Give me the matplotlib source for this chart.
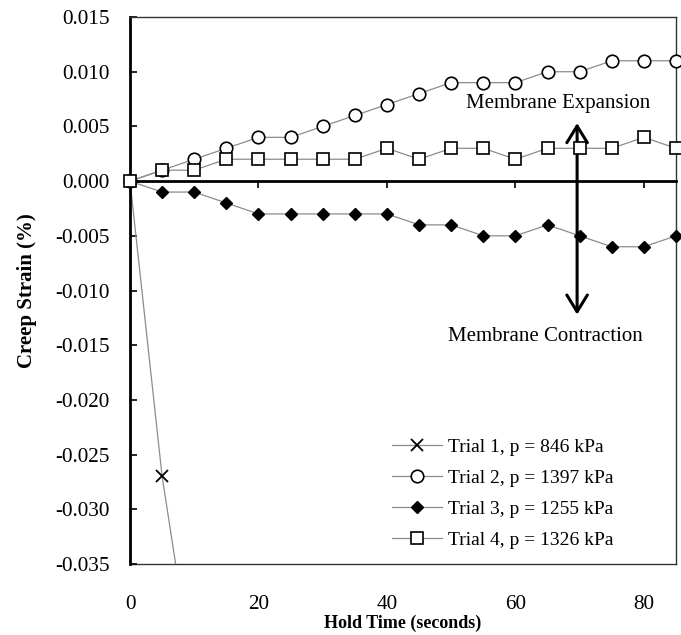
import matplotlib
matplotlib.use("Agg")
import matplotlib.pyplot as plt
from matplotlib.ticker import FormatStrFormatter

plt.rcParams['font.family'] = ['Liberation Serif', 'DejaVu Serif']
plt.rcParams['axes.unicode_minus'] = False

# ---- data ----
time_t1 = [0, 5, 10]
trial1 = [0.0, -0.027, -0.046]

time = [0, 5, 10, 15, 20, 25, 30, 35, 40, 45, 50, 55, 60, 65, 70, 75, 80, 85]
trial2 = [0.0, 0.001, 0.002, 0.003, 0.004, 0.004, 0.005, 0.006, 0.007, 0.008,
          0.009, 0.009, 0.009, 0.010, 0.010, 0.011, 0.011, 0.011]
trial3 = [0.0, -0.001, -0.001, -0.002, -0.003, -0.003, -0.003, -0.003, -0.003, -0.004,
          -0.004, -0.005, -0.005, -0.004, -0.005, -0.006, -0.006, -0.005]
trial4 = [0.0, 0.001, 0.001, 0.002, 0.002, 0.002, 0.002, 0.002, 0.003, 0.002,
          0.003, 0.003, 0.002, 0.003, 0.003, 0.003, 0.004, 0.003]

labels = ["Trial 1, p = 846 kPa", "Trial 2, p = 1397 kPa",
          "Trial 3, p = 1255 kPa", "Trial 4, p = 1326 kPa"]

xticks = [0, 20, 40, 60, 80]
yticks = [-0.035, -0.030, -0.025, -0.020, -0.015, -0.010, -0.005, 0.0, 0.005, 0.010, 0.015]

arrow_x = 69.6
arrow_top = 0.0053
arrow_bottom = -0.0122
text_expansion = (66.6, 0.0071)
text_contraction = (64.6, -0.0142)

# ---- figure ----
fig = plt.figure(figsize=(6.81, 6.35), dpi=100)
ax = fig.add_axes([0.1909, 0.1118, 0.9927 - 0.1909, 0.9732 - 0.1118])

line_color = '#8c8c8c'
ax.plot(time_t1, trial1, color=line_color, lw=0.9, marker='x', ms=8, mec='black',
        mew=1.3, label=labels[0])
ax.plot(time, trial2, color=line_color, lw=0.9, marker='o', ms=9, mfc='white',
        mec='black', mew=1.2, label=labels[1], clip_on=False, zorder=3)
ax.plot(time, trial3, color=line_color, lw=0.9, marker='D', ms=6.5, mfc='black',
        mec='black', mew=1.0, label=labels[2], clip_on=False, zorder=3)
ax.plot(time, trial4, color=line_color, lw=0.9, marker='s', ms=9, mfc='white',
        mec='black', mew=1.2, label=labels[3], clip_on=False, zorder=4)

ax.set_xlim(0, 85)
ax.set_ylim(-0.035, 0.015)

# bottom spine moved to zero line
ax.spines['bottom'].set_position(('data', 0))
ax.spines['bottom'].set_linewidth(2)
ax.spines['bottom'].set_color('black')
ax.spines['left'].set_linewidth(2)
ax.spines['left'].set_color('black')
for s in ['top', 'right']:
    ax.spines[s].set_linewidth(1)
    ax.spines[s].set_color('#333333')

ax.set_xticks(xticks)
ax.tick_params(axis='x', direction='out', length=5, width=1.2, labelbottom=False)
ax.set_yticks(yticks)
ax.yaxis.set_major_formatter(FormatStrFormatter('%.3f'))
ax.tick_params(axis='y', direction='in', length=5, width=1.2, labelsize=15.3, pad=14.5)

# secondary bottom axis for frame and labels
sec = ax.secondary_xaxis('bottom')
sec.set_xticks(xticks)
sec.tick_params(length=0, labelsize=15.3, pad=22)
sec.spines['bottom'].set_linewidth(1)
sec.spines['bottom'].set_color('#333333')
sec.set_xlabel('Hold Time (seconds)', fontsize=13, fontweight='bold', labelpad=1)

ax.set_ylabel('Creep Strain (%)', fontsize=15, fontweight='bold', labelpad=13)

ax.annotate('', xy=(arrow_x, arrow_top), xytext=(arrow_x, arrow_bottom),
            arrowprops=dict(arrowstyle='<->,head_length=0.6,head_width=0.37',
                            lw=2.2, color='black', mutation_scale=20,
                            shrinkA=0, shrinkB=0))
ax.text(text_expansion[0], text_expansion[1], 'Membrane Expansion', fontsize=15,
        ha='center', va='center')
ax.text(text_contraction[0], text_contraction[1], 'Membrane Contraction', fontsize=15,
        ha='center', va='center')

leg = ax.legend(loc='lower left', bbox_to_anchor=(0.479, 0.027), fontsize=14,
                frameon=False, handlelength=2.6, handletextpad=0.3,
                labelspacing=0.7, borderpad=0.0, borderaxespad=0.0)

fig.savefig('out.png', dpi=100)
